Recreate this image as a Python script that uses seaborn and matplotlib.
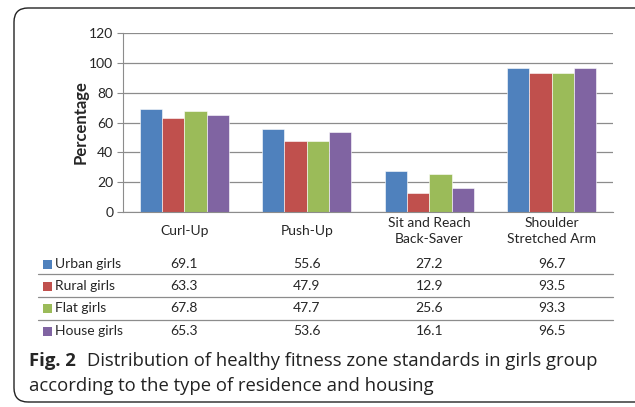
import pandas as pd
import matplotlib.pyplot as plt
import seaborn as sns
from matplotlib.patches import FancyBboxPatch, Rectangle
from matplotlib.transforms import blended_transform_factory

# chart data
tests = ['Curl-Up', 'Push-Up', 'Sit and Reach\nBack-Saver', 'Shoulder\nStretched Arm']
groups = ['Urban girls', 'Rural girls', 'Flat girls', 'House girls']
urban = [69.1, 55.6, 27.2, 96.7]
rural = [63.3, 47.9, 12.9, 93.5]
flat = [67.8, 47.7, 25.6, 93.3]
house = [65.3, 53.6, 16.1, 96.5]
colors = ['#4F81BD', '#C0504D', '#9BBB59', '#8064A2']

series = [urban, rural, flat, house]
rows = []
for g, vals in zip(groups, series):
    for t, v in zip(tests, vals):
        rows.append({'Test': t, 'Group': g, 'Value': v})
df = pd.DataFrame(rows)

sns.set_style('white')
plt.rcParams['font.family'] = ['Lato', 'DejaVu Sans']

W, H = 635, 407
fig = plt.figure(figsize=(W / 100, H / 100), dpi=100)

# rounded frame around the figure
frame = FancyBboxPatch((0.14, 0.05), 6.4, 3.94, boxstyle='round,pad=0,rounding_size=0.14',
                       transform=fig.dpi_scale_trans, facecolor='none', edgecolor='#222222', lw=1.0)
fig.patches.append(frame)

ax = fig.add_axes([123 / W, 1 - 212 / H, (613 - 123) / W, (212 - 33) / H])
sns.barplot(data=df, x='Test', y='Value', hue='Group', order=tests, hue_order=groups,
            palette=colors, width=0.73, saturation=1, ax=ax, legend=False,
            edgecolor='white', linewidth=0.4)

ax.set_ylim(0, 120)
ax.set_yticks(range(0, 121, 20))
ax.set_xlim(-0.5, 3.5)
ax.yaxis.grid(True, color='#8c8c8c', lw=0.9)
ax.set_axisbelow(True)
for s in ['top', 'right']:
    ax.spines[s].set_visible(False)
ax.spines['left'].set_color('#8c8c8c')
ax.spines['bottom'].set_color('#8c8c8c')
ax.tick_params(axis='y', length=4, color='#8c8c8c', labelsize=10, pad=3, left=True)
ax.tick_params(axis='x', length=0, labelsize=10, pad=13.7)
for lbl in ax.get_xticklabels():
    lbl.set_linespacing(1.45)
    lbl.set_va('center')
ax.set_xlabel('')
ax.set_ylabel('Percentage', fontsize=12, fontweight='bold')
ax.yaxis.set_label_coords(-0.071, 0.5)

# data table below the chart
tr = blended_transform_factory(ax.transData, fig.transFigure)
row_y = [264, 286, 308, 331]
for i, (g, vals) in enumerate(zip(groups, series)):
    y = 1 - row_y[i] / H
    fig.patches.append(Rectangle((43 / W, y - 4.5 / H), 9 / W, 9 / H,
                                 transform=fig.transFigure, facecolor=colors[i], edgecolor='none'))
    fig.text(55 / W, y, g, fontsize=10, va='center', ha='left')
    for j, v in enumerate(vals):
        ax.text(j, y, f'{v:.1f}', transform=tr, fontsize=10, va='center', ha='center', clip_on=False)
for ly in [274, 297, 320]:
    fig.add_artist(plt.Line2D([38 / W, 613 / W], [1 - ly / H] * 2, transform=fig.transFigure,
                              color='#8c8c8c', lw=0.9))

# caption
cap_font = ['Open Sans', 'DejaVu Sans']
fig.text(29 / W, 1 - 361 / H, 'Fig. 2', fontsize=13.3, fontweight='bold', va='center', family=cap_font)
fig.text(87 / W, 1 - 361 / H, 'Distribution of healthy fitness zone standards in girls group',
         fontsize=13.3, va='center', family=cap_font, color='#222222')
fig.text(29 / W, 1 - 386 / H, 'according to the type of residence and housing',
         fontsize=13.3, va='center', family=cap_font, color='#222222')

fig.savefig('out.png', dpi=100)
